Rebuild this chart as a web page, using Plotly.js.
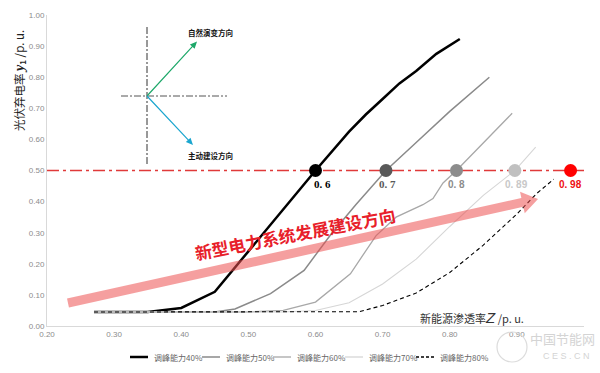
<!DOCTYPE html>
<html><head><meta charset="utf-8">
<script src="https://cdn.plot.ly/plotly-3.0.1.min.js"></script>
<style>html,body{margin:0;padding:0;background:#fff}#chart{width:600px;height:373px}</style>
</head><body><div id="chart"></div>
<script>
// ---- data ----
const seriesNames = ['调峰能力40%','调峰能力50%','调峰能力60%','调峰能力70%','调峰能力80%'];
const x40 = [0.27,0.30,0.35,0.40,0.45,0.50,0.55,0.60,0.65,0.675,0.70,0.725,0.75,0.78,0.815];
const y40 = [0.045,0.045,0.045,0.058,0.11,0.24,0.37,0.50,0.625,0.68,0.73,0.78,0.82,0.875,0.923];
const x50 = [0.27,0.35,0.45,0.48,0.533,0.583,0.622,0.66,0.705,0.75,0.80,0.859];
const y50 = [0.045,0.045,0.045,0.055,0.104,0.179,0.292,0.39,0.50,0.59,0.69,0.80];
const x60 = [0.27,0.50,0.552,0.60,0.652,0.69,0.72,0.76,0.775,0.79,0.81,0.85,0.893];
const y60 = [0.045,0.045,0.05,0.077,0.168,0.29,0.35,0.39,0.41,0.46,0.50,0.59,0.684];
const x70 = [0.27,0.55,0.60,0.65,0.70,0.75,0.80,0.85,0.897,0.928];
const y70 = [0.045,0.045,0.05,0.075,0.135,0.215,0.32,0.42,0.50,0.575];
const x80 = [0.27,0.35,0.45,0.55,0.665,0.70,0.75,0.80,0.85,0.90,0.93,0.955];
const y80 = [0.045,0.045,0.045,0.045,0.046,0.066,0.106,0.172,0.26,0.36,0.427,0.472];
const markX = [0.6,0.705,0.81,0.897,0.98];
const markY = [0.5,0.5,0.5,0.5,0.5];
const markLabels = ['0. 6','0. 7','0. 8','0. 89','0. 98'];
const threshold = 0.5;
const xTicks = [0.2,0.3,0.4,0.5,0.6,0.7,0.8,0.9];

// ---- styles ----
const lineStyles = [
  {color:'#000000', width:2.5, dash:'solid'},
  {color:'#8a8a8a', width:1.5, dash:'solid'},
  {color:'#a8a8a8', width:1.3, dash:'solid'},
  {color:'#d6d6d6', width:1.1, dash:'solid'},
  {color:'#000000', width:1.1, dash:'4px,3px'}
];
const markColors = ['#000000','#595959','#8c8c8c','#c0c0c0','#ff0000'];
const labelColors = ['#000000','#595959','#8c8c8c','#c8c8c8','#ee1111'];
const labelShift = [7,2,0,2,0];

const xs = [x40,x50,x60,x70,x80], ys = [y40,y50,y60,y70,y80];
const traces = xs.map((x,i)=>({
  x:x, y:ys[i], type:'scatter', mode:'lines', name:seriesNames[i], showlegend:false,
  line:{color:lineStyles[i].color, width:lineStyles[i].width, dash:lineStyles[i].dash},
  hoverinfo:'skip'
}));
traces.push({x:markX, y:markY, type:'scatter', mode:'markers', showlegend:false,
  marker:{size:13, color:markColors}, hoverinfo:'skip'});

// pixel helpers (plot area fixed by margins)
const L=47, R=16, T=15, B=47, W=600, H=373;
const pw=W-L-R, ph=H-T-B;
const px2x = p => 0.2 + (p-L)/pw*0.8;
const py2y = p => (H-B-p)/ph;
const pxp = p => (p-L)/pw;      // paper x
const pyp = p => (H-B-p)/ph;    // paper y

function arrowPath(x0,y0,x1,y1,hw,headLen,headHw){
  const dx=x1-x0, dy=y1-y0, len=Math.hypot(dx,dy);
  const ux=dx/len, uy=dy/len, nx=-uy, ny=ux;
  const bx=x1-ux*headLen, by=y1-uy*headLen;
  const pts=[[x0+nx*hw,y0+ny*hw],[bx+nx*hw,by+ny*hw],[bx+nx*headHw,by+ny*headHw],[x1,y1],
             [bx-nx*headHw,by-ny*headHw],[bx-nx*hw,by-ny*hw],[x0-nx*hw,y0-ny*hw]];
  return 'M'+pts.map(p=>px2x(p[0]).toFixed(4)+','+py2y(p[1]).toFixed(4)).join(' L')+' Z';
}

const shapes = [
  {type:'line', xref:'x', yref:'y', x0:0.2, x1:1.0, y0:threshold, y1:threshold,
   line:{color:'#e03a3a', width:1.4, dash:'12px,4px,3px,4px'}, layer:'below'},
  {type:'line', xref:'x', yref:'y', x0:px2x(147), x1:px2x(147), y0:py2y(27), y1:py2y(165),
   line:{color:'#333333', width:1, dash:'7px,2px,2px,2px'}},
  {type:'line', xref:'x', yref:'y', x0:px2x(121), x1:px2x(227), y0:py2y(96), y1:py2y(96),
   line:{color:'#555555', width:1, dash:'7px,2px,2px,2px'}},
  // direction arrows (green: natural evolution, blue: active construction)
  {type:'path', xref:'x', yref:'y', path:arrowPath(147,96,197,41.5,0.6,7,3.2), fillcolor:'#1ea86a', line:{width:0}},
  {type:'path', xref:'x', yref:'y', path:arrowPath(147,96,193,145,0.6,7,3.2), fillcolor:'#1ba6cf', line:{width:0}},
  // big pink direction arrow
  {type:'path', xref:'x', yref:'y', path:arrowPath(68,303,538,199,4.5,16,11),
   fillcolor:'rgba(236,80,80,0.55)', line:{width:0}},
  // watermark logo ring
  {type:'circle', xref:'paper', yref:'paper', x0:pxp(497), x1:pxp(527), y0:pyp(332), y1:pyp(362),
   line:{color:'#dcdcdc', width:1.2}, fillcolor:'rgba(0,0,0,0)'}
];

const annotations = [];
markX.forEach((x,i)=>{
  annotations.push({x:x, y:py2y(184), xref:'x', yref:'y', text:'<b>'+markLabels[i]+'</b>', showarrow:false,
    xshift:labelShift[i], font:{size: i<2?11:10, color:labelColors[i],
    family: i<2?'Liberation Serif, serif':'Liberation Sans, Arial, sans-serif'}});
});
annotations.push({x:px2x(210), y:py2y(32), xref:'x', yref:'y', text:'<b>自然演变方向</b>', showarrow:false,
  font:{size:7.5, color:'#111', family:'Noto Sans CJK SC, sans-serif'}});
annotations.push({x:px2x(210), y:py2y(155), xref:'x', yref:'y', text:'<b>主动建设方向</b>', showarrow:false,
  font:{size:7.5, color:'#111', family:'Noto Sans CJK SC, sans-serif'}});
// big arrow label
annotations.push({x:px2x(295), y:py2y(233), xref:'x', yref:'y', text:'<b>新型电力系统发展建设方向</b>', showarrow:false,
  textangle:-11, font:{size:17, color:'#e8202a', family:'Noto Sans CJK SC, sans-serif'}});
// axis titles
annotations.push({x:px2x(472), y:py2y(317), xref:'x', yref:'y', showarrow:false,
  text:'新能源渗透率<span style="font-size:15px;font-family:Liberation Sans"><i>Z</i></span> /p. u.',
  font:{size:11, color:'#333', family:'Noto Sans CJK SC, sans-serif'}});
annotations.push({x:pxp(19), y:pyp(81), xref:'paper', yref:'paper', xanchor:'center', yanchor:'middle',
  showarrow:false, textangle:-90,
  text:'光伏弃电率 <span style="font-family:Liberation Serif;font-size:14px"><b><i>y</i></b></span><sub><b>1</b></sub> /p. u.',
  font:{size:11.5, color:'#222', family:'Noto Sans CJK SC, sans-serif'}});
// manual legend (short line samples + labels)
const legStart = [130, 202, 273, 345, 416];
legStart.forEach((s,i)=>{
  shapes.push({type:'line', xref:'paper', yref:'paper', x0:pxp(s), x1:pxp(s+18), y0:pyp(357), y1:pyp(357),
    line:{color:lineStyles[i].color, width: i===0?2.5:Math.max(1.3,lineStyles[i].width), dash: i===4?'3px,2px':'solid'}});
  annotations.push({x:pxp(s+22), y:pyp(357), xref:'paper', yref:'paper', xanchor:'left', yanchor:'middle', showarrow:false,
    text:seriesNames[i], font:{size:8, color:'#666', family:'Noto Sans CJK SC, sans-serif'}});
});
// watermark
annotations.push({x:pxp(562), y:pyp(338), xref:'paper', yref:'paper', xanchor:'center', yanchor:'middle', showarrow:false,
  text:'中国节能网', font:{size:13, color:'#d4d4d4', family:'Noto Sans CJK SC, sans-serif'}});
annotations.push({x:pxp(566), y:pyp(356), xref:'paper', yref:'paper', xanchor:'center', yanchor:'middle', showarrow:false,
  text:'C E S . C N', font:{size:9, color:'#d4d4d4', family:'Liberation Sans, sans-serif'}});

const layout = {
  width:W, height:H, margin:{l:L, r:R, t:T, b:B, autoexpand:false},
  paper_bgcolor:'#fff', plot_bgcolor:'#fff', showlegend:false,
  font:{family:'Liberation Sans, Arial, sans-serif'},
  xaxis:{range:[0.2,1.0], tickvals:xTicks, tickformat:'.2f', showgrid:false, zeroline:false,
    showline:true, linecolor:'#d9d9d9', linewidth:1, ticks:'', tickfont:{size:8, color:'#8c8c8c'}},
  yaxis:{range:[0,1], dtick:0.1, tickformat:'.2f', showgrid:false, zeroline:false,
    showline:true, linecolor:'#d9d9d9', linewidth:1, ticks:'', tickfont:{size:8, color:'#8c8c8c'}},
  shapes:shapes, annotations:annotations
};
Plotly.newPlot('chart', traces, layout, {staticPlot:true, displayModeBar:false});
</script></body></html>
